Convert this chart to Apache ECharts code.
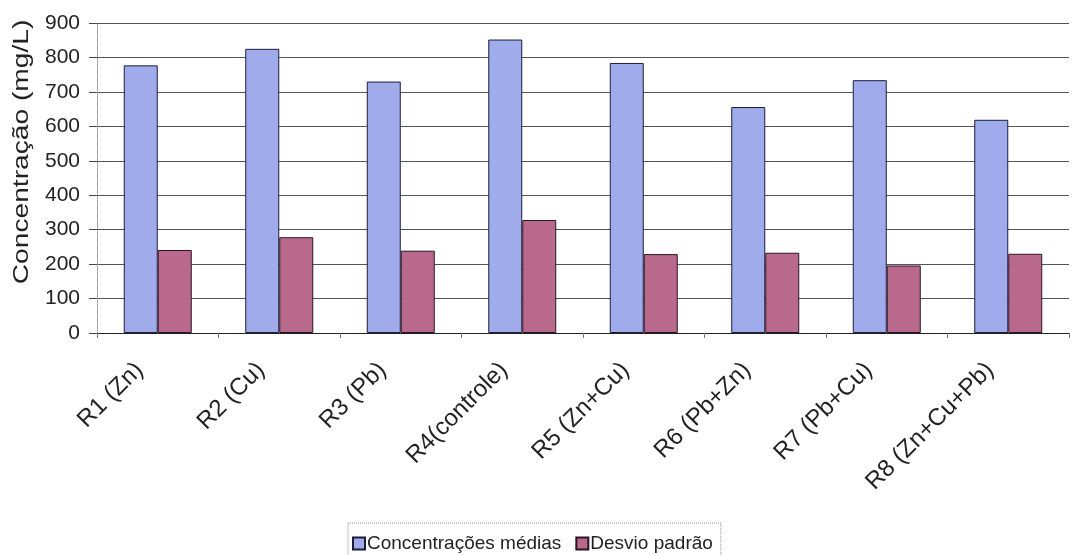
<!DOCTYPE html>
<html>
<head>
<meta charset="utf-8">
<title>Concentração</title>
<script src="https://cdn.jsdelivr.net/npm/echarts@6/dist/echarts.min.js"></script>
<style>
  html, body { margin: 0; padding: 0; background: #ffffff; }
  #chart { width: 1072px; height: 555px; }
</style>
</head>
<body>
<div id="chart"></div>
<script>
// Reactor categories
const categories = ['R1 (Zn)', 'R2 (Cu)', 'R3 (Pb)', 'R4(controle)', 'R5 (Zn+Cu)', 'R6 (Pb+Zn)', 'R7 (Pb+Cu)', 'R8 (Zn+Cu+Pb)'];
// Mean concentrations (mg/L)
const mediaValues = [777, 825, 730, 852, 784, 656, 734, 619];
// Standard deviation (mg/L)
const desvioValues = [241, 278, 239, 328, 229, 233, 196, 230];
const seriesNames = ['Concentrações médias', 'Desvio padrão'];
const yTitle = 'Concentração (mg/L)';
const yTicks = { min: 0, max: 900, interval: 100 };

const FONT = '"Liberation Sans", Arial, sans-serif';
const chart = echarts.init(document.getElementById('chart'), null, { renderer: 'canvas' });

chart.setOption({
  backgroundColor: '#ffffff',
  animation: false,
  textStyle: { fontFamily: FONT, color: '#222' },
  grid: { left: 97, right: 3, top: 23, bottom: 222, containLabel: false },
  // Vertical axis title, stretched along its length
  graphic: [{
    type: 'text',
    x: 22,
    y: 152,
    rotation: Math.PI / 2,
    scaleX: 1.28,
    style: {
      text: yTitle,
      font: '22px "Liberation Sans", Arial, sans-serif',
      fill: '#222',
      textAlign: 'center',
      textVerticalAlign: 'middle'
    }
  }],
  legend: {
    data: seriesNames,
    top: 523,
    left: 348,
    padding: [11, 8, 12, 4],
    itemGap: 14,
    itemWidth: 12,
    itemHeight: 12,
    icon: 'rect',
    borderColor: '#888',
    borderWidth: 1,
    borderType: 'dotted',
    textStyle: { fontFamily: FONT, fontSize: 19, color: '#222', padding: [0, 0, 0, -3] }
  },
  xAxis: {
    type: 'category',
    data: categories,
    axisLine: { lineStyle: { color: '#222', width: 1 } },
    axisTick: { show: true, length: 5, lineStyle: { color: '#777' } },
    axisLabel: {
      rotate: 45,
      margin: 15,
      fontSize: 24,
      fontFamily: FONT,
      color: '#222',
      interval: 0,
      padding: [0, 26, 0, 0]
    }
  },
  yAxis: {
    type: 'value',
    min: yTicks.min,
    max: yTicks.max,
    interval: yTicks.interval,
    axisLine: { show: true, lineStyle: { color: '#999', width: 1, type: 'dotted' } },
    axisTick: { show: true, length: 8, lineStyle: { color: '#444' } },
    axisLabel: { fontSize: 21, fontFamily: FONT, color: '#222', margin: 17 },
    splitLine: { lineStyle: { color: '#555', width: 1 } }
  },
  series: [
    {
      name: seriesNames[0],
      type: 'bar',
      data: mediaValues,
      barWidth: 34,
      barGap: '0%',
      itemStyle: { color: '#a0abec', borderColor: '#1c1c3a', borderWidth: 1 }
    },
    {
      name: seriesNames[1],
      type: 'bar',
      data: desvioValues,
      barWidth: 34,
      barGap: '0%',
      itemStyle: { color: '#b96a8c', borderColor: '#2a1420', borderWidth: 1 }
    }
  ]
});
</script>
</body>
</html>
